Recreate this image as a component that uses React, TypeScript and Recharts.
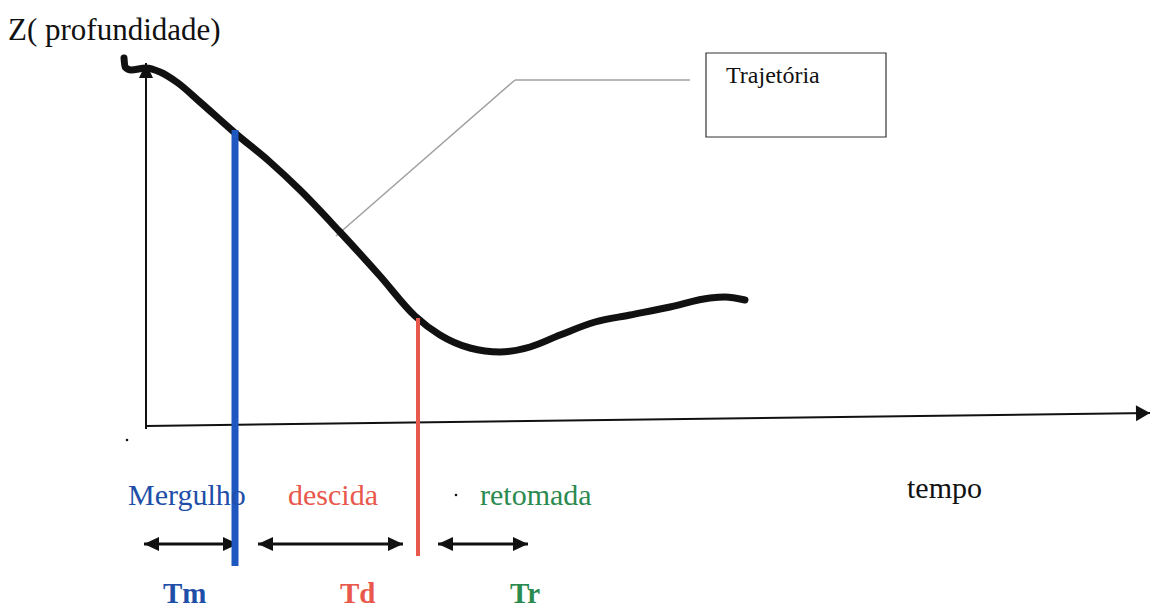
import {
  LineChart,
  Line,
  XAxis,
  YAxis,
  ReferenceLine,
  ReferenceArea,
  ReferenceDot,
} from "recharts";

// trajectory (tempo vs Z)
const tempo = [
  -2.2, -2.1, -1.5, 0, 1.4, 3.2, 5.4, 8.9, 12.4, 15.4, 19.4, 23.4, 26.9, 29.4,
  32.4, 35.4, 38.4, 41.4, 44.9, 48.4, 52.4, 56.4, 57.9, 59.9,
];
const profundidade = [
  36.7, 35.8, 35.5, 35.7, 35.3, 34.2, 32.3, 29.2, 26.3, 23.5, 19.3, 14.9, 10.9,
  9.0, 7.7, 7.3, 7.8, 9.0, 10.3, 11.0, 11.8, 12.7, 12.8, 12.5,
];

const phaseNames = ["Mergulho", "descida", "retomada"];
const phaseSymbols = ["Tm", "Td", "Tr"];
const phaseStart = [-0.2, 11.2, 29.2];
const phaseEnd = [9.2, 25.7, 38.2];

// the two vertical markers (blue: end of dive, red: end of descent)
const markerT = [8.9, 27.2];
const markerTop = [29.5, 10.7];
const markerBottom = [-14.1, -13.1];

const axisTitle = "Z( profundidade)";
const timeTitle = "tempo";
const curveName = "Trajetória";

const data = tempo.map((t, i) => ({ t, z: profundidade[i] }));

const colors = {
  curve: "#111",
  blue: "#1f57c0",
  blueText: "#1f4fa8",
  red: "#e8584c",
  green: "#2b8a4f",
  leader: "#a0a0a0",
};
const phaseColors = [colors.blueText, colors.red, colors.green];
const serif = "'Liberation Serif', 'DejaVu Serif', serif";

const arrowShape =
  (both: boolean, w: number, len: number, half: number, color: string) =>
  (p: any) => {
    const { x1, y1, x2, y2 } = p;
    const a = Math.atan2(y2 - y1, x2 - x1);
    const head = (x: number, y: number, dir: number) => {
      const bx = x - Math.cos(dir) * len;
      const by = y - Math.sin(dir) * len;
      const nx = -Math.sin(dir) * half;
      const ny = Math.cos(dir) * half;
      return `${x},${y} ${bx + nx},${by + ny} ${bx - nx},${by - ny}`;
    };
    return (
      <g>
        <line x1={x1} y1={y1} x2={x2} y2={y2} stroke={color} strokeWidth={w} />
        <polygon points={head(x2, y2, a)} fill={color} />
        {both && <polygon points={head(x1, y1, a + Math.PI)} fill={color} />}
      </g>
    );
  };

const textShape =
  (text: string, color: string, size: number, bold = false) =>
  (p: any) =>
    (
      <text
        x={p.cx}
        y={p.cy}
        fill={color}
        fontSize={size}
        fontWeight={bold ? 700 : 400}
        fontFamily={serif}
      >
        {text}
      </text>
    );

const labelX = [-1.8, 14.2, 33.4];
const symbolX = [1.7, 19.4, 36.4];

export default function App() {
  return (
    <div
      style={{
        position: "absolute",
        left: 0,
        top: 0,
        width: 1150,
        height: 612,
        background: "#fff",
      }}
    >
      <LineChart
        width={1150}
        height={612}
        data={data}
        margin={{ top: 55, right: 0, bottom: 187, left: 106 }}
      >
        <XAxis dataKey="t" type="number" domain={[-4, 100.4]} hide />
        <YAxis type="number" domain={[0, 37]} hide />

        {/* axes drawn by hand, with arrow heads */}
        <ReferenceLine
          segment={[
            { x: 0, y: -0.4 },
            { x: 0, y: 36.2 },
          ]}
          ifOverflow="visible"
          shape={arrowShape(false, 2, 15, 7, "#111")}
        />
        <ReferenceLine
          segment={[
            { x: 0, y: -0.1 },
            { x: 100.4, y: 1.2 },
          ]}
          ifOverflow="visible"
          shape={arrowShape(false, 2, 14, 8, "#111")}
        />

        {/* leader to the legend box */}
        <ReferenceLine
          segment={[
            { x: 19, y: 18.9 },
            { x: 36.9, y: 34.5 },
          ]}
          ifOverflow="visible"
          stroke={colors.leader}
          strokeWidth={1.5}
        />
        <ReferenceLine
          segment={[
            { x: 36.9, y: 34.5 },
            { x: 54.4, y: 34.5 },
          ]}
          ifOverflow="visible"
          stroke={colors.leader}
          strokeWidth={1.5}
        />
        <ReferenceArea
          x1={56}
          x2={74}
          y1={28.8}
          y2={37.2}
          ifOverflow="visible"
          fill="#fff"
          fillOpacity={1}
          stroke="#333"
          strokeWidth={1.2}
        />
        <ReferenceDot
          x={58}
          y={34.2}
          r={0}
          ifOverflow="visible"
          shape={textShape(curveName, "#111", 24)}
        />

        {/* texts */}
        <ReferenceDot
          x={-13.8}
          y={38.5}
          r={0}
          ifOverflow="visible"
          shape={textShape(axisTitle, "#111", 31)}
        />
        <ReferenceDot
          x={76.1}
          y={-7.3}
          r={0}
          ifOverflow="visible"
          shape={textShape(timeTitle, "#111", 30)}
        />
        {phaseNames.map((name, i) => (
          <ReferenceDot
            key={name}
            x={labelX[i]}
            y={-8.0}
            r={0}
            ifOverflow="visible"
            shape={textShape(name, phaseColors[i], 30)}
          />
        ))}
        {phaseSymbols.map((s, i) => (
          <ReferenceDot
            key={s}
            x={symbolX[i]}
            y={-17.8}
            r={0}
            ifOverflow="visible"
            shape={textShape(s, phaseColors[i], 29, true)}
          />
        ))}

        {/* duration arrows */}
        {phaseSymbols.map((s, i) => (
          <ReferenceLine
            key={"arr" + s}
            segment={[
              { x: phaseStart[i], y: -11.9 },
              { x: phaseEnd[i], y: -11.9 },
            ]}
            ifOverflow="visible"
            shape={arrowShape(true, 3, 15, 7, "#111")}
          />
        ))}

        <ReferenceDot x={-1.9} y={-1.5} r={1.3} fill="#111" stroke="none" ifOverflow="visible" />
        <ReferenceDot x={31} y={-7} r={1.3} fill="#111" stroke="none" ifOverflow="visible" />

        <Line
          type="monotone"
          dataKey="z"
          stroke={colors.curve}
          strokeWidth={7}
          strokeLinecap="round"
          strokeLinejoin="round"
          dot={false}
          activeDot={false}
          isAnimationActive={false}
        />

        {/* phase boundaries */}
        <ReferenceLine
          segment={[
            { x: markerT[0], y: markerTop[0] },
            { x: markerT[0], y: markerBottom[0] },
          ]}
          ifOverflow="visible"
          stroke={colors.blue}
          strokeWidth={7}
        />
        <ReferenceLine
          segment={[
            { x: markerT[1], y: markerTop[1] },
            { x: markerT[1], y: markerBottom[1] },
          ]}
          ifOverflow="visible"
          stroke={colors.red}
          strokeWidth={4}
        />
      </LineChart>
    </div>
  );
}
